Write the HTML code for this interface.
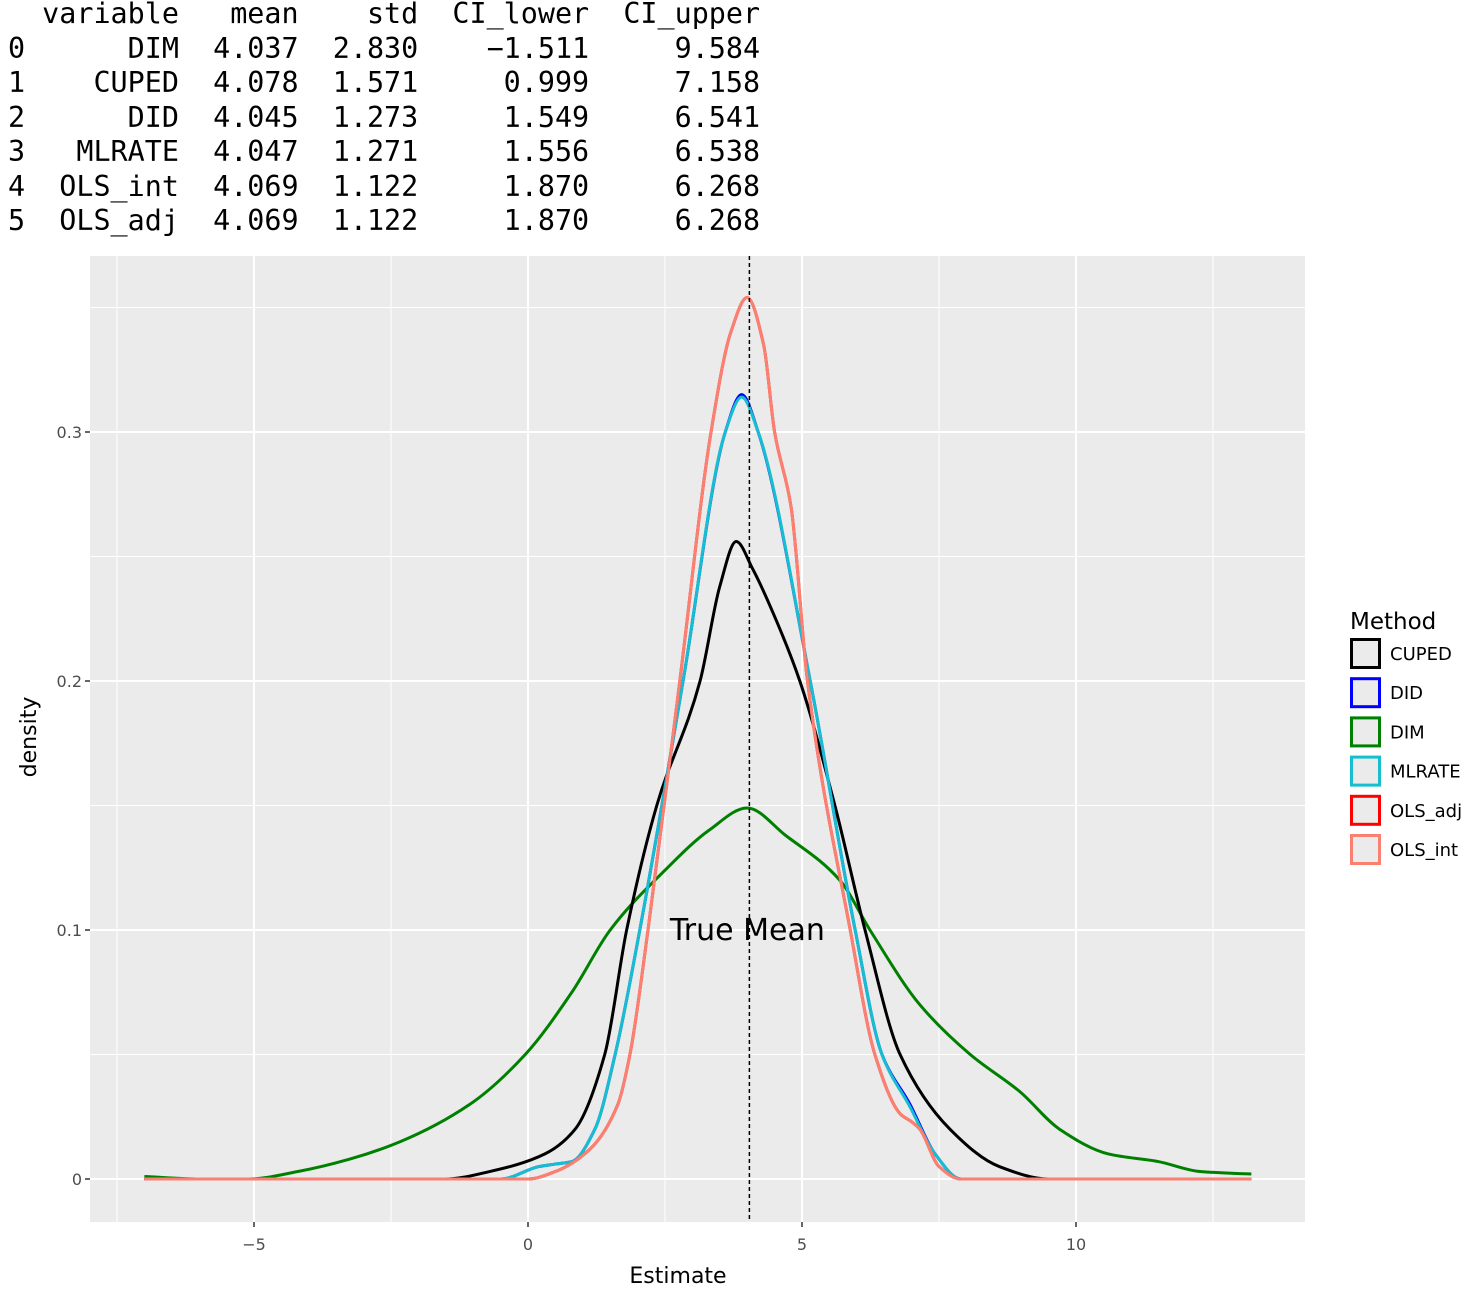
<!DOCTYPE html>
<html><head><meta charset="utf-8">
<style>
body{margin:0;background:#fff;width:1478px;height:1300px;overflow:hidden;position:relative}
pre{position:absolute;left:8px;top:-3px;margin:0;font-family:"DejaVu Sans Mono","Liberation Mono",monospace;font-size:28.4px;line-height:34.5px;color:#000}
svg{position:absolute;left:0;top:0}
</style></head><body>
<pre id="tbl"></pre>
<svg id="chart" width="1478" height="1300"></svg>
<script>
const tblRows=[["0","DIM","4.037","2.830","−1.511","9.584"],["1","CUPED","4.078","1.571","0.999","7.158"],["2","DID","4.045","1.273","1.549","6.541"],["3","MLRATE","4.047","1.271","1.556","6.538"],["4","OLS_int","4.069","1.122","1.870","6.268"],["5","OLS_adj","4.069","1.122","1.870","6.268"]];
let t=" "+"variable".padStart(9)+"mean".padStart(7)+"std".padStart(7)+"CI_lower".padStart(10)+"CI_upper".padStart(10)+"\n";
tblRows.forEach(r=>{t+=r[0]+r[1].padStart(9)+r[2].padStart(7)+r[3].padStart(7)+r[4].padStart(10)+r[5].padStart(10)+"\n";});
document.getElementById('tbl').textContent=t;

const xTicks=[-5,0,5,10];
const yTicks=[0,0.1,0.2,0.3];
const seriesNames=["CUPED","DID","DIM","MLRATE","OLS_adj","OLS_int"];
const seriesColors=["#000000","#0000ff","#008000","#17becf","#ff0000","#fa8072"];
const trueMean=4.04;
const dimX=[-7,-6,-5.1,-4.2,-3.25,-2.33,-1.06,-0.05,0.8,1.5,2.5,3.3,4.0,4.7,5.69,6.24,7.15,8.07,8.98,9.7,10.6,11.5,12.26,13.2];
const dimY=[0.001,0,0,0.003,0.008,0.015,0.03,0.05,0.075,0.1,0.124,0.14,0.149,0.138,0.12,0.1,0.07,0.05,0.035,0.02,0.01,0.007,0.003,0.002];
const cupedX=[-7,-1.5,-0.7,0.3,0.86,1.4,1.8,2.35,3.14,3.5,3.8,4.1,4.42,4.96,5.6,6.15,6.79,7.7,8.6,9.5,13.2];
const cupedY=[0,0,0.003,0.01,0.02,0.05,0.1,0.15,0.2,0.238,0.256,0.245,0.23,0.2,0.15,0.1,0.05,0.02,0.005,0,0];
const didX=[-7,-0.5,0.2,0.5,0.8,1.22,1.59,2.04,2.83,3.6,3.9,4.2,5.15,5.97,6.46,6.97,7.43,7.9,13.2];
const didY=[0,0,0.005,0.006,0.007,0.02,0.05,0.1,0.2,0.3,0.315,0.3,0.2,0.1,0.05,0.03,0.01,0,0];
const mlrateX=didX.slice();
const mlrateY=[0,0,0.005,0.006,0.007,0.02,0.05,0.1,0.2,0.3,0.314,0.3,0.2,0.1,0.05,0.029,0.01,0,0];
const olsX=[-7,0,0.5,1.13,1.64,1.86,2.19,2.77,3.34,3.7,4.0,4.3,4.5,4.8,5.1,5.88,6.33,6.8,7.0,7.15,7.5,7.9,13.2];
const olsY=[0,0,0.003,0.012,0.03,0.05,0.1,0.2,0.3,0.34,0.354,0.335,0.3,0.27,0.2,0.1,0.05,0.026,0.023,0.02,0.005,0,0];
const seriesX=[cupedX,didX,dimX,mlrateX,olsX,olsX];
const seriesY=[cupedY,didY,dimY,mlrateY,olsY,olsY];

const NS="http://www.w3.org/2000/svg";
const svg=document.getElementById('chart');
const L=90,R=1305,T=256,B=1222;
const sx=v=>528+54.8*v, sy=v=>1179-2490*v;
function mk(tag,at,parent){const e=document.createElementNS(NS,tag);for(const k in at)e.setAttribute(k,at[k]);(parent||svg).appendChild(e);return e;}
const bg=mk('rect',{x:L,y:T,width:R-L,height:B-T,fill:'#ebebeb'});


for(let i=0;i<xTicks.length;i++){
  const v=xTicks[i];
  const m=mk('line',{x1:sx(v-2.5),x2:sx(v-2.5),y1:T,y2:B,stroke:'#fff','stroke-width':1});
  
  
}
const mLast=mk('line',{x1:sx(12.5),x2:sx(12.5),y1:T,y2:B,stroke:'#fff','stroke-width':1});


for(let i=0;i<yTicks.length;i++){
  const v=yTicks[i]+0.05;
  const m=mk('line',{x1:L,x2:R,y1:sy(v),y2:sy(v),stroke:'#fff','stroke-width':1});
  
  
}
xTicks.forEach(v=>{
  const g=mk('line',{x1:sx(v),x2:sx(v),y1:T,y2:B,stroke:'#fff','stroke-width':2});
  
  
  const tk=mk('line',{x1:sx(v),x2:sx(v),y1:B,y2:B+5,stroke:'#333','stroke-width':1.5});
  
  
  const tx=mk('text',{x:sx(v),y:B+28,'text-anchor':'middle','font-family':'DejaVu Sans, Liberation Sans, sans-serif','font-size':16,fill:'#4d4d4d'});
  tx.textContent=v<0?'−'+Math.abs(v):String(v);
  
  
});
yTicks.forEach(v=>{
  const g=mk('line',{x1:L,x2:R,y1:sy(v),y2:sy(v),stroke:'#fff','stroke-width':2});
  
  
  const tk=mk('line',{x1:L-5,x2:L,y1:sy(v),y2:sy(v),stroke:'#333','stroke-width':1.5});
  
  
  const tx=mk('text',{x:L-8,y:sy(v)+6,'text-anchor':'end','font-family':'DejaVu Sans, Liberation Sans, sans-serif','font-size':16,fill:'#4d4d4d'});
  tx.textContent=v===0?'0':String(v);
  
  
});
function pathFor(xs,ys){
  const n=xs.length;
  const px=xs.map(sx), py=ys.map(sy);
  const d=[],m=new Array(n);
  for(let i=0;i<n-1;i++)d.push((py[i+1]-py[i])/(px[i+1]-px[i]));
  m[0]=d[0];m[n-1]=d[n-2];
  for(let i=1;i<n-1;i++){
    if(d[i-1]*d[i]<=0)m[i]=0;
    else{const h0=px[i]-px[i-1],h1=px[i+1]-px[i];const w1=2*h1+h0,w2=h1+2*h0;m[i]=(w1+w2)/(w1/d[i-1]+w2/d[i]);}
  }
  let s='M'+px[0]+','+py[0];
  for(let i=0;i<n-1;i++){
    const h=px[i+1]-px[i];
    s+=` C${px[i]+h/3},${py[i]+m[i]*h/3} ${px[i+1]-h/3},${py[i+1]-m[i+1]*h/3} ${px[i+1]},${py[i+1]}`;
  }
  return s;
}
const order=[2,0,1,3,4,5];
order.forEach(i=>{
  const pth=mk('path',{d:pathFor(seriesX[i],seriesY[i]),fill:'none',stroke:seriesColors[i],'stroke-width':3,'stroke-linejoin':'round'});
  
  
});
const vl=mk('line',{x1:sx(trueMean),x2:sx(trueMean),y1:T,y2:B,stroke:'#000','stroke-width':1.5,'stroke-dasharray':'4,3'});


const tm=mk('text',{x:sx(trueMean)-2,y:940,'text-anchor':'middle','font-family':'DejaVu Sans, Liberation Sans, sans-serif','font-size':30,fill:'#000'});
tm.textContent='True Mean';


const xt=mk('text',{x:678,y:1283,'text-anchor':'middle','font-family':'DejaVu Sans, Liberation Sans, sans-serif','font-size':22,fill:'#000'});
xt.textContent='Estimate';


const yt=mk('text',{x:0,y:0,'text-anchor':'middle','font-family':'DejaVu Sans, Liberation Sans, sans-serif','font-size':22,fill:'#000',transform:'translate(36,737) rotate(-90)'});
yt.textContent='density';


const lt=mk('text',{x:1350,y:629,'font-family':'DejaVu Sans, Liberation Sans, sans-serif','font-size':23,fill:'#000'});
lt.textContent='Method';


seriesNames.forEach((n,i)=>{
  const y=638+i*39.2;
  const r=mk('rect',{x:1351.5,y:y+1.5,width:28,height:28,fill:'#ebebeb',stroke:seriesColors[i],'stroke-width':3});
  
  
  const tx=mk('text',{x:1390,y:y+22,'font-family':'DejaVu Sans, Liberation Sans, sans-serif','font-size':18,fill:'#000'});
  tx.textContent=n;
  
  
});
</script>
</body></html>
